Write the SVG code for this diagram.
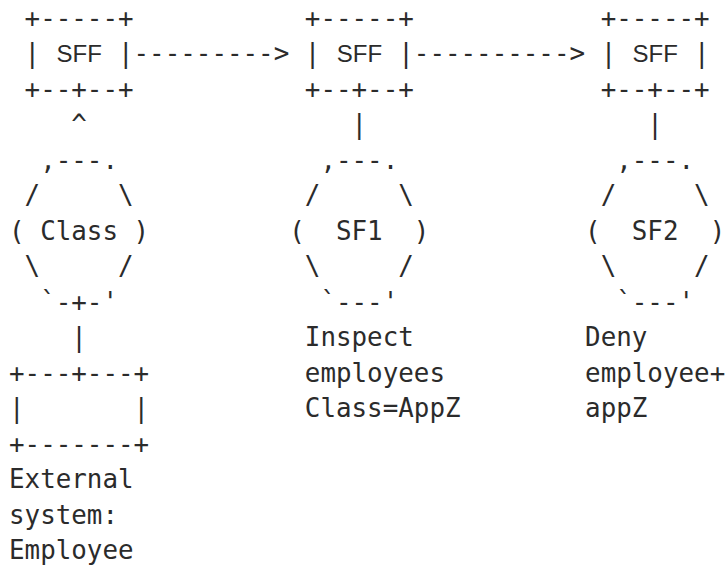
<svg xmlns="http://www.w3.org/2000/svg" width="726" height="569" viewBox="0 0 726 569">
<style>
text { fill: #2b2b2b; white-space: pre; }
.m { font-family: "DejaVu Sans Mono", monospace; font-size: 25.86px; }
.s { font-family: "Liberation Sans", Arial, sans-serif; font-size: 24px; }
</style>
<rect width="726" height="569" fill="#fff"/>
<g id="sff1">
<text class="m" x="24.57" y="26.5">+-----+</text>
<text class="m" x="24.57" y="62">|</text><text class="s" x="56.5" y="62">SFF</text><text class="m" x="117.99" y="62">|</text>
<text class="m" x="24.57" y="97.5">+--+--+</text>
</g>
<g id="sff2">
<text class="m" x="304.83" y="26.5">+-----+</text>
<text class="m" x="304.83" y="62">|</text><text class="s" x="336.8" y="62">SFF</text><text class="m" x="398.25" y="62">|</text>
<text class="m" x="304.83" y="97.5">+--+--+</text>
</g>
<g id="sff3">
<text class="m" x="600.66" y="26.5">+-----+</text>
<text class="m" x="600.66" y="62">|</text><text class="s" x="632.6" y="62">SFF</text><text class="m" x="694.08" y="62">|</text>
<text class="m" x="600.66" y="97.5">+--+--+</text>
</g>
<g id="class">
<text class="m" x="40.14" y="168.5">,---.</text>
<text class="m" x="24.57" y="204">/</text><text class="m" x="117.99" y="204">\</text>
<text class="m" x="9" y="239.5">(</text><text class="m" x="40.14" y="239.5">Class</text><text class="m" x="133.56" y="239.5">)</text>
<text class="m" x="24.57" y="275">\</text><text class="m" x="117.99" y="275">/</text>
<text class="m" x="40.14" y="310.5">`-+-'</text>
</g>
<g id="sf1">
<text class="m" x="320.4" y="168.5">,---.</text>
<text class="m" x="304.83" y="204">/</text><text class="m" x="398.25" y="204">\</text>
<text class="m" x="289.26" y="239.5">(</text><text class="m" x="335.97" y="239.5">SF1</text><text class="m" x="413.82" y="239.5">)</text>
<text class="m" x="304.83" y="275">\</text><text class="m" x="398.25" y="275">/</text>
<text class="m" x="320.4" y="310.5">`---'</text>
<text class="m" x="304.83" y="346">Inspect</text>
<text class="m" x="304.83" y="381.5">employees</text>
<text class="m" x="304.83" y="417">Class=AppZ</text>
</g>
<g id="sf2">
<text class="m" x="616.23" y="168.5">,---.</text>
<text class="m" x="600.66" y="204">/</text><text class="m" x="694.08" y="204">\</text>
<text class="m" x="585.09" y="239.5">(</text><text class="m" x="631.8" y="239.5">SF2</text><text class="m" x="709.65" y="239.5">)</text>
<text class="m" x="600.66" y="275">\</text><text class="m" x="694.08" y="275">/</text>
<text class="m" x="616.23" y="310.5">`---'</text>
<text class="m" x="585.09" y="346">Deny</text>
<text class="m" x="585.09" y="381.5">employee+</text>
<text class="m" x="585.09" y="417">appZ</text>
</g>
<g id="external-system">
<text class="m" x="9" y="381.5">+---+---+</text>
<text class="m" x="9" y="417">|</text><text class="m" x="133.56" y="417">|</text>
<text class="m" x="9" y="452.5">+-------+</text>
<text class="m" x="9" y="488">External</text>
<text class="m" x="9" y="523.5">system:</text>
<text class="m" x="9" y="559">Employee</text>
</g>
<g id="connectors">
<text class="m" x="133.56" y="62">---------&gt;</text>
<text class="m" x="413.82" y="62">----------&gt;</text>
<text class="m" x="71.28" y="133">^</text>
<text class="m" x="351.54" y="133">|</text>
<text class="m" x="647.37" y="133">|</text>
<text class="m" x="71.28" y="346">|</text>
</g>
</svg>
